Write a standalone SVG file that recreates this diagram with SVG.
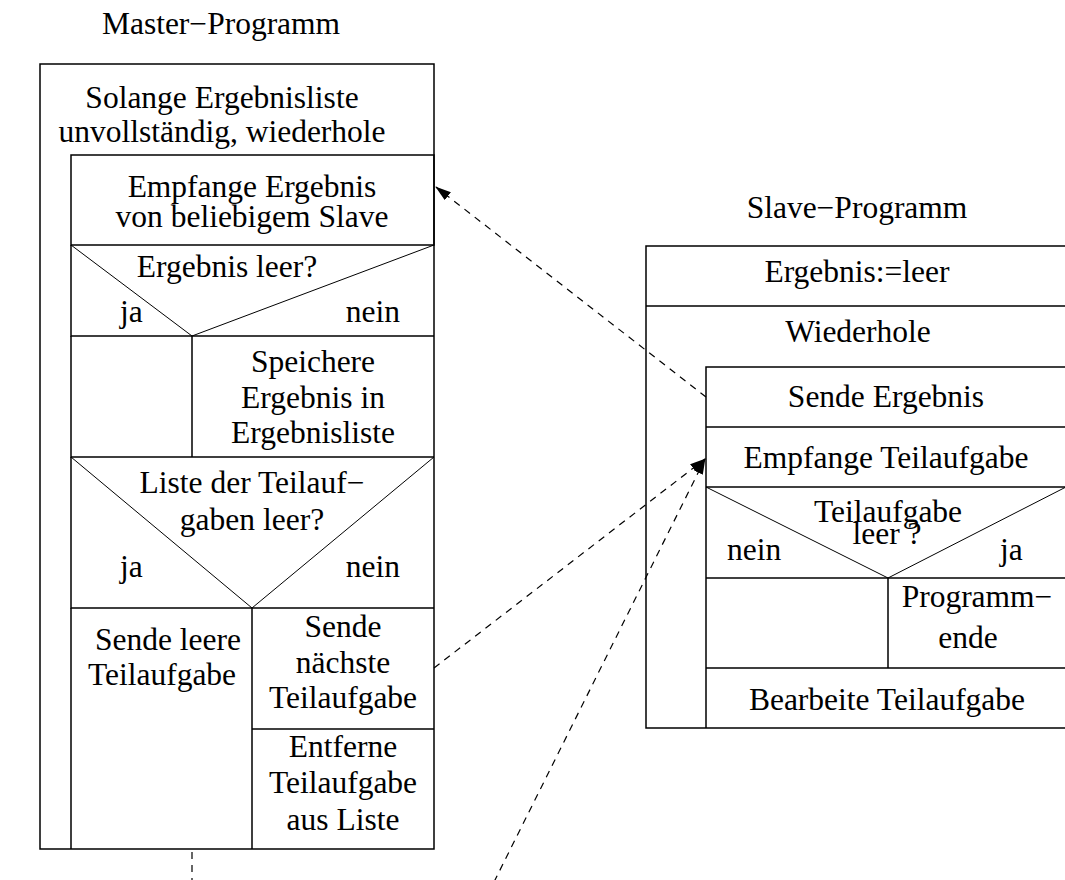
<svg xmlns="http://www.w3.org/2000/svg" width="1065" height="880" viewBox="0 0 1065 880">
  <style>
    text { font-family: "Liberation Serif", "Times New Roman", serif; font-size: 31.5px; fill: #000; }
    .c { text-anchor: middle; }
    .box { fill: none; stroke: #000; stroke-width: 1.5; }
    .thin { fill: none; stroke: #000; stroke-width: 1; }
    .flow { fill: none; stroke: #000; stroke-width: 1.2; stroke-dasharray: 7 6; }
  </style>
  <defs>
    <marker id="head" viewBox="0 0 16 10" refX="15" refY="5" markerWidth="16" markerHeight="10" markerUnits="userSpaceOnUse" orient="auto">
      <path d="M0,0 L16,5 L0,10 Z" fill="#000"/>
    </marker>
  </defs>
  <rect width="1065" height="880" fill="#fff"/>

  <!-- Master program (Nassi-Shneiderman) -->
  <g id="master-title">
    <text class="c" x="221" y="34">Master−Programm</text>
  </g>
  <g id="master-loop">
    <path class="box" d="M40,64 H434 V849 H40 Z"/>
    <text class="c" x="222" y="108">Solange Ergebnisliste</text>
    <text class="c" x="222" y="142">unvollständig, wiederhole</text>
  </g>
  <g id="master-receive">
    <path class="box" d="M71,155 H434 V245 H71 Z"/>
    <text class="c" x="252" y="197">Empfange Ergebnis</text>
    <text class="c" x="252" y="227">von beliebigem Slave</text>
  </g>
  <g id="master-if-empty">
    <path class="box" d="M71,245 V336 H434"/>
    <path class="thin" d="M71,245 L192,336 L434,245"/>
    <text class="c" x="227" y="277">Ergebnis leer?</text>
    <text x="120" y="322">ja</text>
    <text x="400" y="322" text-anchor="end">nein</text>
  </g>
  <g id="master-store">
    <path class="box" d="M71,336 V457 H434 M192,336 V457"/>
    <text class="c" x="313" y="372">Speichere</text>
    <text class="c" x="313" y="408">Ergebnis in</text>
    <text class="c" x="313" y="443">Ergebnisliste</text>
  </g>
  <g id="master-if-list">
    <path class="box" d="M71,457 V608 H434"/>
    <path class="thin" d="M71,457 L252,608 L434,457"/>
    <text class="c" x="252" y="493">Liste der Teilauf−</text>
    <text class="c" x="252" y="530">gaben leer?</text>
    <text x="120" y="577">ja</text>
    <text x="400" y="577" text-anchor="end">nein</text>
  </g>
  <g id="master-send-empty">
    <path class="box" d="M71,608 V849 M252,608 V849"/>
    <text class="c" x="168" y="650">Sende leere</text>
    <text class="c" x="162" y="685">Teilaufgabe</text>
  </g>
  <g id="master-send-next">
    <path class="box" d="M252,729 H434"/>
    <text class="c" x="343" y="637">Sende</text>
    <text class="c" x="343" y="673">nächste</text>
    <text class="c" x="343" y="708">Teilaufgabe</text>
  </g>
  <g id="master-remove">
    <text class="c" x="343" y="757">Entferne</text>
    <text class="c" x="343" y="793">Teilaufgabe</text>
    <text class="c" x="343" y="830">aus Liste</text>
  </g>

  <!-- Slave program -->
  <g id="slave-title">
    <text class="c" x="857" y="218">Slave−Programm</text>
  </g>
  <g id="slave-init">
    <path class="box" d="M1070,246 H646 V728 H1070 M646,306 H1070"/>
    <text class="c" x="857" y="282">Ergebnis:=leer</text>
  </g>
  <g id="slave-loop">
    <text class="c" x="858" y="342">Wiederhole</text>
    <path class="box" d="M1070,367 H706 V728"/>
  </g>
  <g id="slave-send">
    <path class="box" d="M706,427 H1070"/>
    <text class="c" x="886" y="407">Sende Ergebnis</text>
  </g>
  <g id="slave-receive">
    <path class="box" d="M706,487 H1070"/>
    <text class="c" x="886" y="468">Empfange Teilaufgabe</text>
  </g>
  <g id="slave-if-empty">
    <path class="thin" d="M706,487 L888,578 L1066,487"/>
    <path class="box" d="M706,578 H1070"/>
    <text class="c" x="888" y="522">Teilaufgabe</text>
    <text class="c" x="887" y="544">leer ?</text>
    <text x="727" y="560">nein</text>
    <text x="1000" y="560">ja</text>
  </g>
  <g id="slave-end">
    <path class="box" d="M888,578 V668 M706,668 H1070"/>
    <text class="c" x="977" y="607">Programm−</text>
    <text class="c" x="968" y="648">ende</text>
  </g>
  <g id="slave-work">
    <text class="c" x="887" y="710">Bearbeite Teilaufgabe</text>
  </g>

  <!-- Message connectors -->
  <g id="connectors">
    <line class="flow" x1="706" y1="397" x2="436" y2="187" marker-end="url(#head)"/>
    <line class="flow" x1="434" y1="668" x2="705" y2="459" marker-end="url(#head)"/>
    <line class="flow" x1="494" y1="882" x2="705" y2="459" marker-end="url(#head)"/>
    <line class="flow" x1="192" y1="852" x2="192" y2="882"/>
  </g>
</svg>
